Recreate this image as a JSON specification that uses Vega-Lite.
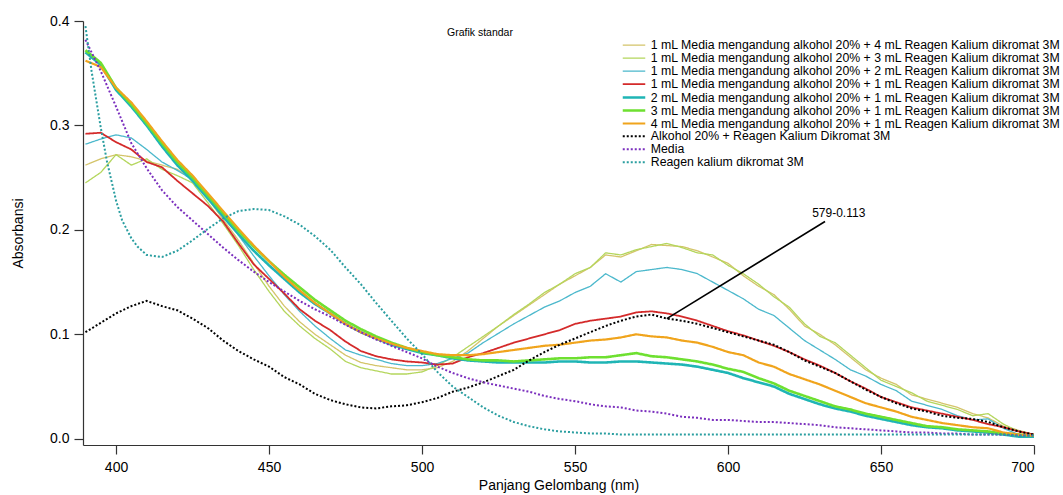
{
  "$schema": "https://vega.github.io/schema/vega-lite/v6.json",
  "autosize": "none",
  "width": 951,
  "height": 424,
  "padding": {"left": 83, "top": 21, "right": 29, "bottom": 50},
  "background": "white",
  "title": {"text": "Grafik standar", "anchor": "start", "frame": "group", "dx": 364, "offset": -29, "fontSize": 10.5, "fontWeight": "normal", "font": "Liberation Sans", "color": "#000", "baseline": "middle"},
  "datasets": {
    "labels": [
      {"k": "k4", "label": "1 mL Media mengandung alkohol 20% + 4 mL Reagen Kalium dikromat 3M"},
      {"k": "k3", "label": "1 mL Media mengandung alkohol 20% + 3 mL Reagen Kalium dikromat 3M"},
      {"k": "k2", "label": "1 mL Media mengandung alkohol 20% + 2 mL Reagen Kalium dikromat 3M"},
      {"k": "k1", "label": "1 mL Media mengandung alkohol 20% + 1 mL Reagen Kalium dikromat 3M"},
      {"k": "m2", "label": "2 mL Media mengandung alkohol 20% + 1 mL Reagen Kalium dikromat 3M"},
      {"k": "m3", "label": "3 mL Media mengandung alkohol 20% + 1 mL Reagen Kalium dikromat 3M"},
      {"k": "m4", "label": "4 mL Media mengandung alkohol 20% + 1 mL Reagen Kalium dikromat 3M"},
      {"k": "alk", "label": "Alkohol 20% + Reagen Kalium Dikromat 3M"},
      {"k": "med", "label": "Media"},
      {"k": "rea", "label": "Reagen kalium dikromat 3M"}
    ],
    "spectra": [
      {"w":390,"k4":0.262,"k3":0.245,"k2":0.282,"k1":0.292,"m2":0.370,"m3":0.372,"m4":0.362,"alk":0.102,"med":0.382,"rea":0.395},
      {"w":392,"rea":0.352},
      {"w":394,"rea":0.316},
      {"w":395,"k4":0.268,"k3":0.255,"k2":0.287,"k1":0.293,"m2":0.358,"m3":0.360,"m4":0.356,"alk":0.111,"med":0.352,"rea":0.298},
      {"w":397,"rea":0.266},
      {"w":400,"k4":0.272,"k3":0.272,"k2":0.291,"k1":0.284,"m2":0.334,"m3":0.336,"m4":0.336,"alk":0.120,"med":0.318,"rea":0.228},
      {"w":402,"rea":0.209},
      {"w":405,"k4":0.270,"k3":0.262,"k2":0.288,"k1":0.277,"m2":0.318,"m3":0.320,"m4":0.322,"alk":0.127,"med":0.283,"rea":0.192},
      {"w":407,"rea":0.184},
      {"w":410,"k4":0.266,"k3":0.268,"k2":0.277,"k1":0.265,"m2":0.300,"m3":0.302,"m4":0.304,"alk":0.132,"med":0.259,"rea":0.176},
      {"w":415,"k4":0.262,"k3":0.258,"k2":0.265,"k1":0.260,"m2":0.280,"m3":0.283,"m4":0.285,"alk":0.127,"med":0.238,"rea":0.174},
      {"w":420,"k4":0.258,"k3":0.252,"k2":0.257,"k1":0.247,"m2":0.262,"m3":0.265,"m4":0.267,"alk":0.123,"med":0.222,"rea":0.180},
      {"w":425,"k4":0.248,"k3":0.245,"k2":0.248,"k1":0.235,"m2":0.247,"m3":0.250,"m4":0.252,"alk":0.115,"med":0.209,"rea":0.190},
      {"w":430,"k4":0.230,"k3":0.226,"k2":0.232,"k1":0.223,"m2":0.230,"m3":0.233,"m4":0.235,"alk":0.106,"med":0.196,"rea":0.201},
      {"w":435,"k4":0.210,"k3":0.206,"k2":0.212,"k1":0.208,"m2":0.213,"m3":0.216,"m4":0.218,"alk":0.094,"med":0.183,"rea":0.211},
      {"w":440,"k4":0.190,"k3":0.185,"k2":0.195,"k1":0.187,"m2":0.196,"m3":0.199,"m4":0.201,"alk":0.084,"med":0.171,"rea":0.218},
      {"w":445,"k4":0.168,"k3":0.162,"k2":0.175,"k1":0.167,"m2":0.180,"m3":0.184,"m4":0.185,"alk":0.076,"med":0.160,"rea":0.220},
      {"w":450,"k4":0.146,"k3":0.141,"k2":0.156,"k1":0.153,"m2":0.166,"m3":0.170,"m4":0.170,"alk":0.069,"med":0.150,"rea":0.219},
      {"w":455,"k4":0.127,"k3":0.122,"k2":0.138,"k1":0.139,"m2":0.153,"m3":0.157,"m4":0.155,"alk":0.059,"med":0.141,"rea":0.213},
      {"w":460,"k4":0.112,"k3":0.108,"k2":0.122,"k1":0.124,"m2":0.140,"m3":0.145,"m4":0.142,"alk":0.052,"med":0.132,"rea":0.205},
      {"w":465,"k4":0.100,"k3":0.096,"k2":0.108,"k1":0.113,"m2":0.129,"m3":0.133,"m4":0.130,"alk":0.043,"med":0.124,"rea":0.194},
      {"w":470,"k4":0.090,"k3":0.086,"k2":0.096,"k1":0.104,"m2":0.120,"m3":0.123,"m4":0.120,"alk":0.037,"med":0.117,"rea":0.181},
      {"w":475,"k4":0.080,"k3":0.074,"k2":0.085,"k1":0.093,"m2":0.110,"m3":0.113,"m4":0.110,"alk":0.033,"med":0.109,"rea":0.164},
      {"w":480,"k4":0.073,"k3":0.068,"k2":0.080,"k1":0.084,"m2":0.102,"m3":0.105,"m4":0.102,"alk":0.030,"med":0.102,"rea":0.148},
      {"w":485,"k4":0.070,"k3":0.065,"k2":0.076,"k1":0.079,"m2":0.096,"m3":0.098,"m4":0.096,"alk":0.029,"med":0.095,"rea":0.130},
      {"w":490,"k4":0.068,"k3":0.062,"k2":0.072,"k1":0.076,"m2":0.090,"m3":0.092,"m4":0.091,"alk":0.031,"med":0.089,"rea":0.113},
      {"w":495,"k4":0.066,"k3":0.062,"k2":0.070,"k1":0.074,"m2":0.086,"m3":0.087,"m4":0.087,"alk":0.032,"med":0.083,"rea":0.096},
      {"w":500,"k4":0.066,"k3":0.064,"k2":0.070,"k1":0.073,"m2":0.082,"m3":0.083,"m4":0.084,"alk":0.035,"med":0.077,"rea":0.081},
      {"w":505,"k4":0.068,"k3":0.070,"k2":0.072,"k1":0.071,"m2":0.080,"m3":0.080,"m4":0.081,"alk":0.039,"med":0.069,"rea":0.064},
      {"w":510,"k4":0.074,"k3":0.078,"k2":0.077,"k1":0.072,"m2":0.077,"m3":0.078,"m4":0.080,"alk":0.045,"med":0.063,"rea":0.050},
      {"w":515,"k4":0.084,"k3":0.088,"k2":0.082,"k1":0.078,"m2":0.075,"m3":0.076,"m4":0.080,"alk":0.049,"med":0.058,"rea":0.040},
      {"w":520,"k4":0.096,"k3":0.098,"k2":0.092,"k1":0.082,"m2":0.074,"m3":0.075,"m4":0.081,"alk":0.054,"med":0.054,"rea":0.030},
      {"w":525,"k4":0.108,"k3":0.108,"k2":0.101,"k1":0.087,"m2":0.073,"m3":0.075,"m4":0.083,"alk":0.060,"med":0.051,"rea":0.022},
      {"w":530,"k4":0.118,"k3":0.119,"k2":0.110,"k1":0.092,"m2":0.073,"m3":0.074,"m4":0.085,"alk":0.066,"med":0.048,"rea":0.016},
      {"w":535,"k4":0.128,"k3":0.129,"k2":0.118,"k1":0.096,"m2":0.073,"m3":0.075,"m4":0.087,"alk":0.075,"med":0.045,"rea":0.012},
      {"w":540,"k4":0.138,"k3":0.140,"k2":0.126,"k1":0.100,"m2":0.073,"m3":0.076,"m4":0.089,"alk":0.083,"med":0.041,"rea":0.009},
      {"w":545,"k4":0.148,"k3":0.148,"k2":0.132,"k1":0.104,"m2":0.074,"m3":0.077,"m4":0.090,"alk":0.090,"med":0.038,"rea":0.007},
      {"w":550,"k4":0.156,"k3":0.158,"k2":0.140,"k1":0.110,"m2":0.074,"m3":0.077,"m4":0.092,"alk":0.096,"med":0.036,"rea":0.006},
      {"w":555,"k4":0.164,"k3":0.164,"k2":0.146,"k1":0.113,"m2":0.073,"m3":0.078,"m4":0.094,"alk":0.102,"med":0.033,"rea":0.005},
      {"w":560,"k4":0.176,"k3":0.178,"k2":0.158,"k1":0.115,"m2":0.073,"m3":0.078,"m4":0.095,"alk":0.108,"med":0.031,"rea":0.005},
      {"w":565,"k4":0.174,"k3":0.176,"k2":0.150,"k1":0.117,"m2":0.074,"m3":0.080,"m4":0.097,"alk":0.113,"med":0.030,"rea":0.004},
      {"w":570,"k4":0.180,"k3":0.181,"k2":0.160,"k1":0.121,"m2":0.074,"m3":0.082,"m4":0.100,"alk":0.117,"med":0.027,"rea":0.004},
      {"w":575,"k4":0.186,"k3":0.184,"k2":0.162,"k1":0.122,"m2":0.073,"m3":0.079,"m4":0.098,"alk":0.119,"med":0.026,"rea":0.004},
      {"w":580,"k4":0.185,"k3":0.187,"k2":0.164,"k1":0.120,"m2":0.072,"m3":0.078,"m4":0.097,"alk":0.115,"med":0.024,"rea":0.004},
      {"w":585,"k4":0.184,"k3":0.183,"k2":0.162,"k1":0.117,"m2":0.071,"m3":0.076,"m4":0.094,"alk":0.113,"med":0.021,"rea":0.004},
      {"w":590,"k4":0.180,"k3":0.178,"k2":0.158,"k1":0.113,"m2":0.069,"m3":0.074,"m4":0.092,"alk":0.110,"med":0.020,"rea":0.004},
      {"w":595,"k4":0.174,"k3":0.176,"k2":0.150,"k1":0.108,"m2":0.066,"m3":0.071,"m4":0.088,"alk":0.106,"med":0.018,"rea":0.004},
      {"w":600,"k4":0.168,"k3":0.166,"k2":0.142,"k1":0.103,"m2":0.063,"m3":0.067,"m4":0.083,"alk":0.102,"med":0.018,"rea":0.004},
      {"w":605,"k4":0.156,"k3":0.158,"k2":0.134,"k1":0.099,"m2":0.058,"m3":0.064,"m4":0.080,"alk":0.098,"med":0.017,"rea":0.004},
      {"w":610,"k4":0.146,"k3":0.148,"k2":0.124,"k1":0.094,"m2":0.054,"m3":0.058,"m4":0.073,"alk":0.094,"med":0.016,"rea":0.004},
      {"w":615,"k4":0.138,"k3":0.136,"k2":0.118,"k1":0.089,"m2":0.050,"m3":0.053,"m4":0.069,"alk":0.090,"med":0.016,"rea":0.004},
      {"w":620,"k4":0.124,"k3":0.126,"k2":0.106,"k1":0.083,"m2":0.043,"m3":0.046,"m4":0.062,"alk":0.083,"med":0.015,"rea":0.004},
      {"w":625,"k4":0.108,"k3":0.110,"k2":0.094,"k1":0.076,"m2":0.038,"m3":0.041,"m4":0.057,"alk":0.075,"med":0.014,"rea":0.004},
      {"w":630,"k4":0.100,"k3":0.098,"k2":0.085,"k1":0.070,"m2":0.033,"m3":0.036,"m4":0.052,"alk":0.069,"med":0.013,"rea":0.004},
      {"w":635,"k4":0.090,"k3":0.092,"k2":0.076,"k1":0.063,"m2":0.029,"m3":0.031,"m4":0.046,"alk":0.063,"med":0.011,"rea":0.004},
      {"w":640,"k4":0.078,"k3":0.080,"k2":0.066,"k1":0.055,"m2":0.026,"m3":0.028,"m4":0.040,"alk":0.055,"med":0.010,"rea":0.004},
      {"w":645,"k4":0.066,"k3":0.068,"k2":0.060,"k1":0.048,"m2":0.022,"m3":0.024,"m4":0.034,"alk":0.047,"med":0.009,"rea":0.004},
      {"w":650,"k4":0.058,"k3":0.056,"k2":0.052,"k1":0.040,"m2":0.019,"m3":0.021,"m4":0.030,"alk":0.040,"med":0.008,"rea":0.004},
      {"w":655,"k4":0.052,"k3":0.050,"k2":0.046,"k1":0.035,"m2":0.016,"m3":0.018,"m4":0.026,"alk":0.034,"med":0.007,"rea":0.004},
      {"w":660,"k4":0.042,"k3":0.044,"k2":0.036,"k1":0.030,"m2":0.013,"m3":0.015,"m4":0.021,"alk":0.029,"med":0.006,"rea":0.004},
      {"w":665,"k4":0.038,"k3":0.036,"k2":0.032,"k1":0.027,"m2":0.011,"m3":0.012,"m4":0.018,"alk":0.026,"med":0.006,"rea":0.004},
      {"w":670,"k4":0.034,"k3":0.032,"k2":0.028,"k1":0.024,"m2":0.010,"m3":0.011,"m4":0.015,"alk":0.022,"med":0.005,"rea":0.004},
      {"w":675,"k4":0.030,"k3":0.028,"k2":0.022,"k1":0.021,"m2":0.008,"m3":0.009,"m4":0.013,"alk":0.020,"med":0.005,"rea":0.004},
      {"w":680,"k4":0.024,"k3":0.022,"k2":0.018,"k1":0.018,"m2":0.007,"m3":0.008,"m4":0.011,"alk":0.019,"med":0.004,"rea":0.004},
      {"w":685,"k4":0.020,"k3":0.024,"k2":0.019,"k1":0.014,"m2":0.006,"m3":0.007,"m4":0.010,"alk":0.016,"med":0.004,"rea":0.004},
      {"w":690,"k4":0.012,"k3":0.014,"k2":0.010,"k1":0.011,"m2":0.004,"m3":0.005,"m4":0.006,"alk":0.011,"med":0.004,"rea":0.004},
      {"w":695,"k4":0.008,"k3":0.007,"k2":0.004,"k1":0.007,"m2":0.002,"m3":0.004,"m4":0.004,"alk":0.007,"med":0.003,"rea":0.003},
      {"w":700,"k4":0.004,"k3":0.004,"k2":0.002,"k1":0.004,"m2":0.002,"m3":0.003,"m4":0.003,"alk":0.004,"med":0.003,"rea":0.003}
    ]
  },
  "layer": [
    {
      "data": {"name": "spectra"},
      "transform": [
        {"fold": ["k4","k3","k2","k1","m2","m3","m4","alk","med","rea"], "as": ["k","v"]},
        {"filter": "isValid(datum.v)"},
        {"lookup": "k", "from": {"data": {"name": "labels"}, "key": "k", "fields": ["label"]}}
      ],
      "mark": {"type": "line", "clip": true, "strokeCap": "butt"},
      "encoding": {
        "x": {"field": "w", "type": "quantitative", "scale": {"domain": [389.2, 700], "nice": false, "zero": false},
          "axis": {"title": "Panjang Gelombang (nm)", "values": [400,450,500,550,600,650,700], "grid": false, "tickSize": 9, "labelPadding": 6, "titlePadding": 4}},
        "y": {"field": "v", "type": "quantitative", "scale": {"domain": [-0.006, 0.4], "nice": false, "zero": false},
          "axis": {"title": "Absorbansi", "values": [0,0.1,0.2,0.3,0.4], "format": ".1f", "grid": false, "tickSize": 9, "labelPadding": 5, "titlePadding": 24}},
        "color": {"field": "label", "type": "nominal",
          "scale": {"domain": [
            "1 mL Media mengandung alkohol 20% + 4 mL Reagen Kalium dikromat 3M",
            "1 mL Media mengandung alkohol 20% + 3 mL Reagen Kalium dikromat 3M",
            "1 mL Media mengandung alkohol 20% + 2 mL Reagen Kalium dikromat 3M",
            "1 mL Media mengandung alkohol 20% + 1 mL Reagen Kalium dikromat 3M",
            "2 mL Media mengandung alkohol 20% + 1 mL Reagen Kalium dikromat 3M",
            "3 mL Media mengandung alkohol 20% + 1 mL Reagen Kalium dikromat 3M",
            "4 mL Media mengandung alkohol 20% + 1 mL Reagen Kalium dikromat 3M",
            "Alkohol 20% + Reagen Kalium Dikromat 3M",
            "Media",
            "Reagen kalium dikromat 3M"],
            "range": ["#d4c46a","#b4d65c","#4bb8cc","#d42a2a","#1fb5b5","#6ee030","#f0a41c","#000000","#7b2fbe","#2a9ea0"]},
          "legend": {"orient": "none", "legendX": 550.75, "legendY": 18, "title": null}},
        "strokeDash": {"field": "label", "type": "nominal",
          "scale": {"domain": [
            "1 mL Media mengandung alkohol 20% + 4 mL Reagen Kalium dikromat 3M",
            "1 mL Media mengandung alkohol 20% + 3 mL Reagen Kalium dikromat 3M",
            "1 mL Media mengandung alkohol 20% + 2 mL Reagen Kalium dikromat 3M",
            "1 mL Media mengandung alkohol 20% + 1 mL Reagen Kalium dikromat 3M",
            "2 mL Media mengandung alkohol 20% + 1 mL Reagen Kalium dikromat 3M",
            "3 mL Media mengandung alkohol 20% + 1 mL Reagen Kalium dikromat 3M",
            "4 mL Media mengandung alkohol 20% + 1 mL Reagen Kalium dikromat 3M",
            "Alkohol 20% + Reagen Kalium Dikromat 3M",
            "Media",
            "Reagen kalium dikromat 3M"],
            "range": [[1,0],[1,0],[1,0],[1,0],[1,0],[1,0],[1,0],[2,2],[2,2],[2,2]]},
          "legend": {"orient": "none", "legendX": 550.75, "legendY": 18, "title": null}},
        "strokeWidth": {"field": "label", "type": "ordinal",
          "scale": {"type": "ordinal", "domain": [
            "1 mL Media mengandung alkohol 20% + 4 mL Reagen Kalium dikromat 3M",
            "1 mL Media mengandung alkohol 20% + 3 mL Reagen Kalium dikromat 3M",
            "1 mL Media mengandung alkohol 20% + 2 mL Reagen Kalium dikromat 3M",
            "1 mL Media mengandung alkohol 20% + 1 mL Reagen Kalium dikromat 3M",
            "2 mL Media mengandung alkohol 20% + 1 mL Reagen Kalium dikromat 3M",
            "3 mL Media mengandung alkohol 20% + 1 mL Reagen Kalium dikromat 3M",
            "4 mL Media mengandung alkohol 20% + 1 mL Reagen Kalium dikromat 3M",
            "Alkohol 20% + Reagen Kalium Dikromat 3M",
            "Media",
            "Reagen kalium dikromat 3M"],
            "range": [1.3,1.3,1.3,1.8,2.6,2.6,2.2,2,2,2]},
          "legend": null}
      }
    },
    {
      "data": {"values": [{"x": 580, "y": 0.115, "x2": 631.7, "y2": 0.208}]},
      "mark": {"type": "rule", "color": "#000", "strokeWidth": 1.6},
      "encoding": {
        "x": {"field": "x", "type": "quantitative"},
        "y": {"field": "y", "type": "quantitative"},
        "x2": {"field": "x2"},
        "y2": {"field": "y2"}
      }
    },
    {
      "data": {"values": [{"x": 627.5, "y": 0.216, "t": "579-0.113"}]},
      "mark": {"type": "text", "align": "left", "baseline": "middle", "fontSize": 12, "font": "Liberation Sans", "color": "#000"},
      "encoding": {
        "x": {"field": "x", "type": "quantitative"},
        "y": {"field": "y", "type": "quantitative"},
        "text": {"field": "t"}
      }
    }
  ],
  "config": {
    "view": {"stroke": null},
    "font": "Liberation Sans",
    "legend": {"symbolStrokeWidth": 2, "labelFontSize": 12.3, "labelFont": "Liberation Sans", "labelColor": "#000", "labelLimit": 600, "symbolType": "M-3.5,0H1", "symbolSize": 100, "rowPadding": -3, "padding": 0, "labelOffset": 4, "labelBaseline": "middle"},
    "axis": {"domainColor": "#333", "tickColor": "#333", "labelColor": "#000", "titleColor": "#000", "labelFontSize": 14, "titleFontSize": 14, "titleFontWeight": "normal", "labelFont": "Liberation Sans", "titleFont": "Liberation Sans", "domainWidth": 1.2, "tickWidth": 1.2}
  }
}
